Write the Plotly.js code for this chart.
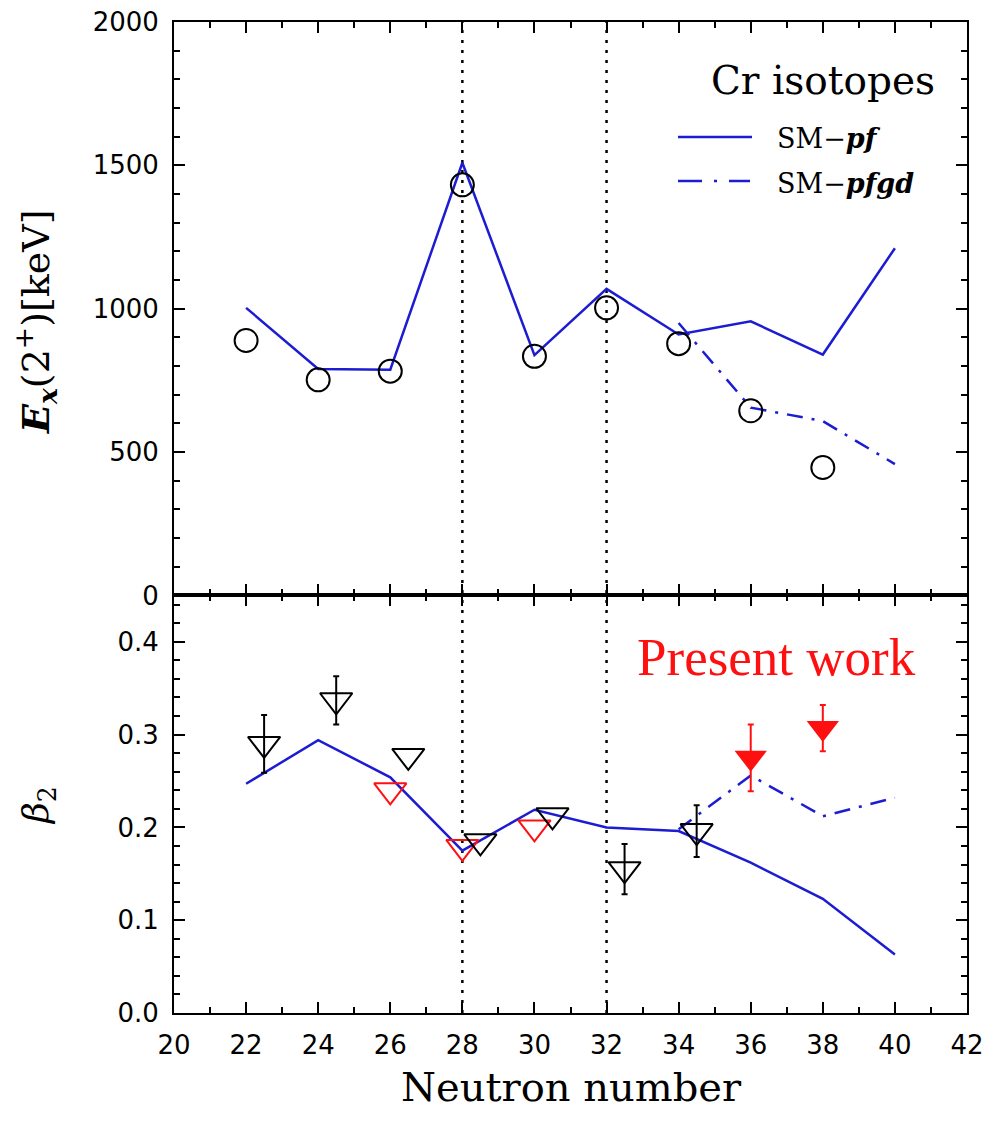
<!DOCTYPE html>
<html>
<head>
<meta charset="utf-8">
<script src="https://cdn.plot.ly/plotly-3.0.1.min.js"></script>
<style>html,body{margin:0;padding:0;background:#fff}</style>
</head>
<body>
<div id="chart" style="width:989px;height:1123px"></div>
<script>
// ---- Cr isotopes: 2+ excitation energies (keV) ----
const expN   = [22, 24, 26, 28, 30, 32, 34, 36, 38];
const expE   = [889, 752, 782, 1432, 834, 1003, 878, 644, 446];
const smN    = [22, 24, 26, 28, 30, 32, 34, 36, 38, 40];
const smPfE  = [1003, 790, 787, 1509, 838, 1069, 910, 956, 840, 1211];
const pfgdN  = [34, 36, 38, 40];
const smPfgdE = [950, 655, 608, 458];

// ---- quadrupole deformation beta2 ----
const smPfB   = [0.247, 0.294, 0.254, 0.175, 0.219, 0.200, 0.196, 0.162, 0.123, 0.063];
const smPfgdB = [0.198, 0.256, 0.212, 0.232];
const litErrN = [22.5, 24.5, 32.5, 34.5];
const litErrB = [0.290, 0.337, 0.155, 0.196];
const litErr  = [0.031, 0.026, 0.027, 0.028];
const litN    = [26.5, 28.5, 30.5];
const litB    = [0.277, 0.185, 0.213];
const otherN  = [26, 28, 30];
const otherB  = [0.240, 0.179, 0.200];
const presentN   = [36, 38];
const presentB   = [0.275, 0.307];
const presentErr = [0.036, 0.025];

// magic neutron numbers marked with dotted lines
const shellN = [28, 32];

// ---- page geometry (pixels) ----
const W = 989, H = 1123;
const M = {l: 174, r: 22, t: 22, b: 110};
const PW = W - M.l - M.r, PH = H - M.t - M.b;
const split = 417.6 / PH;               // bottom panel share of the height
const px = x => (x - M.l) / PW;         // page x -> paper x
const py = y => 1 - (y - M.t) / PH;     // page y -> paper y

const BLUE = '#1c1cd2', RED = '#ff1010', BLACK = '#000';
const tickFont = {family: 'DejaVu Sans', size: 26, color: BLACK};
const minorTicks = d => ({dtick: d, ticks: 'inside', ticklen: 6, tickwidth: 2, tickcolor: BLACK});
const axisBase = {
  showgrid: false, zeroline: false, showline: true, linecolor: BLACK, linewidth: 2,
  mirror: 'ticks', ticks: 'inside', ticklen: 11, tickwidth: 2, tickcolor: BLACK,
  tickfont: tickFont
};
const TRI = 28;

const traces = [
  // upper panel
  {x: smN, y: smPfE, xaxis: 'x2', yaxis: 'y2', mode: 'lines',
   line: {color: BLUE, width: 2.5}, name: 'SM-pf'},
  {x: pfgdN, y: smPfgdE, xaxis: 'x2', yaxis: 'y2', mode: 'lines',
   line: {color: BLUE, width: 2.5, dash: '16px,9px,3px,9px'}, name: 'SM-pfgd'},
  {x: expN, y: expE, xaxis: 'x2', yaxis: 'y2', mode: 'markers',
   marker: {symbol: 'circle-open', size: 23, color: BLACK, line: {width: 2}}, name: 'exp'},
  // lower panel
  {x: smN, y: smPfB, xaxis: 'x', yaxis: 'y', mode: 'lines',
   line: {color: BLUE, width: 2.5}, name: 'SM-pf'},
  {x: pfgdN, y: smPfgdB, xaxis: 'x', yaxis: 'y', mode: 'lines',
   line: {color: BLUE, width: 2.5, dash: '16px,9px,3px,9px'}, name: 'SM-pfgd'},
  {x: otherN, y: otherB, xaxis: 'x', yaxis: 'y', mode: 'markers',
   marker: {symbol: 'triangle-down-open', size: TRI, color: RED, line: {width: 2}}},
  {x: litN, y: litB, xaxis: 'x', yaxis: 'y', mode: 'markers',
   marker: {symbol: 'triangle-down-open', size: TRI, color: BLACK, line: {width: 2}}},
  {x: litErrN, y: litErrB, xaxis: 'x', yaxis: 'y', mode: 'markers',
   error_y: {type: 'data', array: litErr, visible: true, color: BLACK, thickness: 2, width: 3},
   marker: {symbol: 'triangle-down-open', size: TRI, color: BLACK, line: {width: 2}}},
  {x: presentN, y: presentB, xaxis: 'x', yaxis: 'y', mode: 'markers',
   error_y: {type: 'data', array: presentErr, visible: true, color: RED, thickness: 2, width: 3},
   marker: {symbol: 'triangle-down', size: TRI, color: RED, line: {width: 0}}}
];

const shapes = shellN.map(n => ({
  type: 'line', xref: 'x', yref: 'paper', x0: n, x1: n, y0: 0, y1: 1, layer: 'below',
  line: {color: BLACK, width: 2.5, dash: '3px,7px'}
}));
// legend samples
shapes.push({type: 'line', xref: 'paper', yref: 'paper', x0: px(678), x1: px(752), y0: py(137), y1: py(137),
  line: {color: BLUE, width: 2.5}});
shapes.push({type: 'line', xref: 'paper', yref: 'paper', x0: px(678), x1: px(750), y0: py(181), y1: py(181),
  line: {color: BLUE, width: 2.5, dash: '24px,12px,3px,12px'}});

const serif = 'DejaVu Serif';
const annotations = [
  {text: 'Cr isotopes', xref: 'paper', yref: 'paper', x: px(823), y: py(81),
   xanchor: 'center', yanchor: 'middle', showarrow: false, font: {family: serif, size: 39, color: BLACK}},
  {text: 'SM\u2212<b><i>pf</i></b>', xref: 'paper', yref: 'paper', x: px(775), y: py(138),
   xanchor: 'left', yanchor: 'middle', showarrow: false, font: {family: serif, size: 27, color: BLACK}},
  {text: 'SM\u2212<b><i>pfgd</i></b>', xref: 'paper', yref: 'paper', x: px(775), y: py(183),
   xanchor: 'left', yanchor: 'middle', showarrow: false, font: {family: serif, size: 27, color: BLACK}},
  {text: 'Present work', xref: 'paper', yref: 'paper', x: px(635), y: py(657),
   xanchor: 'left', yanchor: 'middle', showarrow: false,
   font: {family: 'Liberation Serif', size: 53, color: RED}},
  {text: '<b><i>E</i></b><sub><b><i>x</i></b></sub>(2<sup>+</sup>)[keV]', xref: 'paper', yref: 'paper',
   x: px(36), y: py(322), textangle: -90, xanchor: 'center', yanchor: 'middle', showarrow: false,
   font: {family: serif, size: 38, color: BLACK}},
  {text: '<i>\u03b2</i><sub>2</sub>', xref: 'paper', yref: 'paper',
   x: px(38), y: py(806), textangle: -90, xanchor: 'center', yanchor: 'middle', showarrow: false,
   font: {family: serif, size: 36, color: BLACK}},
  {text: 'Neutron number', xref: 'paper', yref: 'paper', x: px(571), y: py(1087),
   xanchor: 'center', yanchor: 'middle', showarrow: false, font: {family: serif, size: 40, color: BLACK}}
];

const layout = {
  width: W, height: H, margin: M, showlegend: false,
  paper_bgcolor: '#fff', plot_bgcolor: '#fff',
  xaxis: Object.assign({}, axisBase, {anchor: 'y', range: [20, 42], tick0: 20, dtick: 2,
    minor: minorTicks(1), ticklabelstandoff: 8}),
  xaxis2: Object.assign({}, axisBase, {anchor: 'y2', matches: 'x', range: [20, 42], tick0: 20, dtick: 2,
    minor: minorTicks(1), showticklabels: false}),
  yaxis: Object.assign({}, axisBase, {domain: [0, split], range: [0, 0.45], tick0: 0, dtick: 0.1,
    tickformat: '.1f', minor: minorTicks(0.02), ticklabelstandoff: 8}),
  yaxis2: Object.assign({}, axisBase, {domain: [split, 1], range: [0, 2000], tick0: 0, dtick: 500,
    minor: minorTicks(100), ticklabelstandoff: 8}),
  shapes: shapes,
  annotations: annotations
};

Plotly.newPlot('chart', traces, layout, {displayModeBar: false, staticPlot: true});
</script>
</body>
</html>
